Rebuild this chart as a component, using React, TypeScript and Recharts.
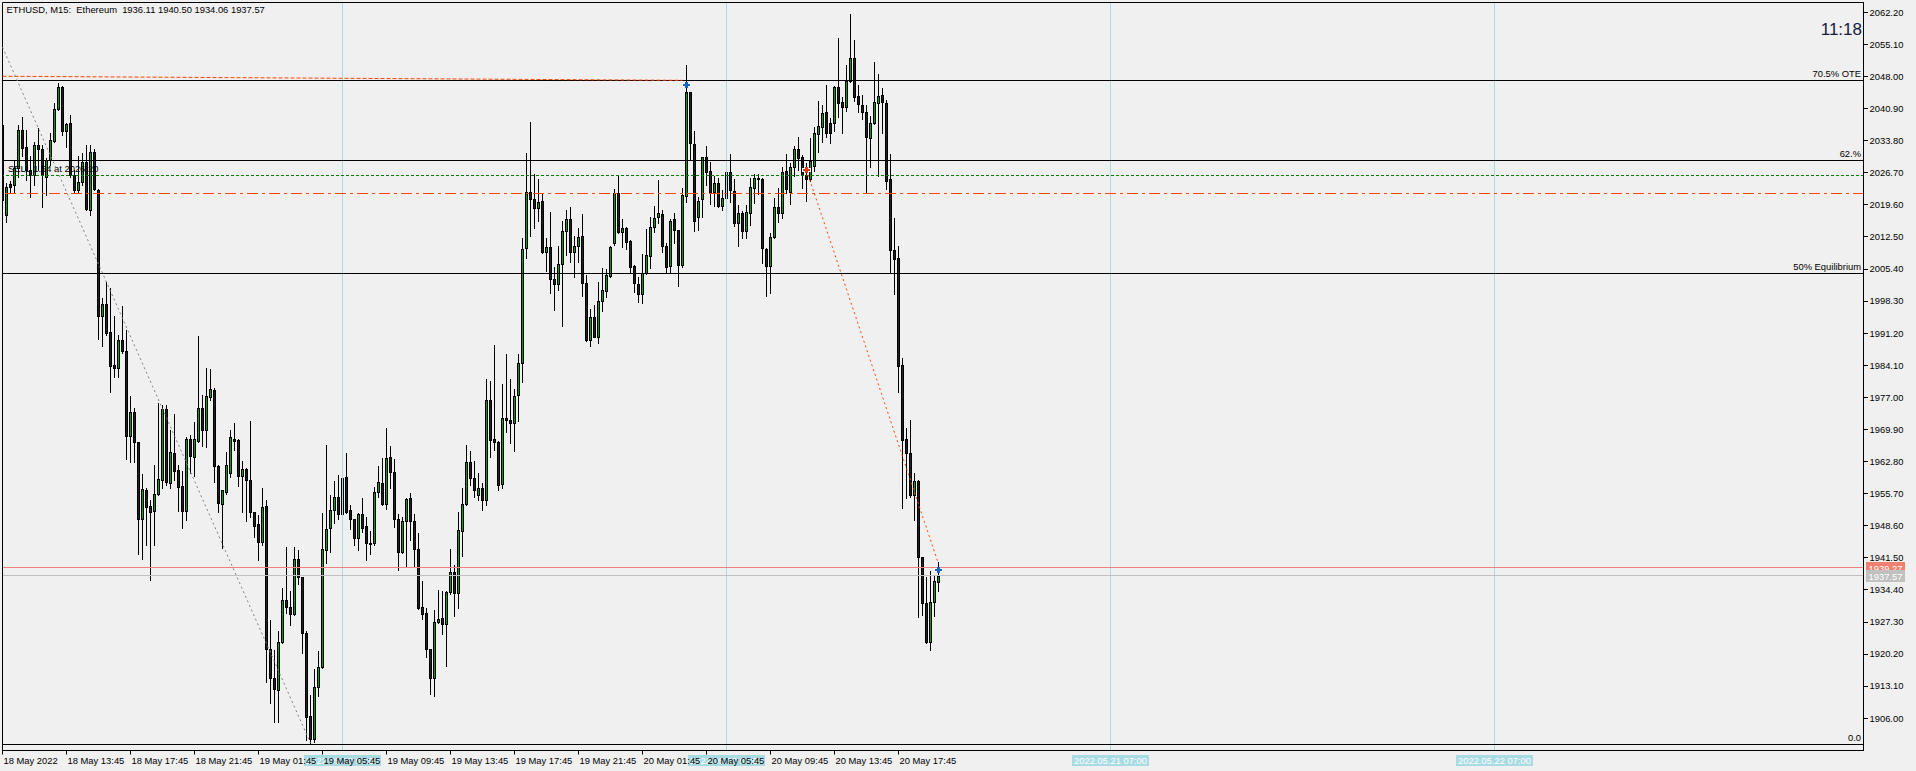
import React from 'react';
import { ComposedChart, Bar, XAxis, YAxis, ReferenceLine, ReferenceArea, ReferenceDot } from 'recharts';

const FONT = '"Liberation Sans", Arial, sans-serif';
const FS = 9.4;
const BULL = '#1f8f1f';
const BEAR = '#1e1e1e';
const SEP = '#a9dbe3';
const ORANGE = '#ff4500';

// ETHUSD M15, bar 0 = 18 May 09:45
const opens = [
  2037.3, 2017.4, 2024.2, 2024.0, 2027.7, 2036.2, 2032.3, 2027.3, 2026.2, 2032.8,
  2031.9, 2025.8, 2029.5, 2033.8, 2040.7, 2045.6, 2036.0, 2037.6, 2026.2, 2022.9,
  2024.6, 2029.0, 2018.5, 2031.2, 2022.9, 1995.1, 1997.6, 1991.4, 1984.2, 1983.6,
  1989.7, 1987.3, 1968.5, 1973.8, 1967.1, 1950.2, 1956.5, 1952.9, 1951.9, 1955.6,
  1958.7, 1974.4, 1958.0, 1964.6, 1960.9, 1957.4, 1951.9, 1967.9, 1963.9, 1967.4,
  1974.6, 1969.8, 1977.1, 1978.6, 1961.9, 1953.3, 1956.0, 1960.3, 1967.9, 1967.6,
  1959.7, 1961.1, 1958.7, 1951.6, 1949.0, 1945.1, 1952.9, 1921.3, 1914.9, 1912.3,
  1922.9, 1932.2, 1930.7, 1929.0, 1941.2, 1937.2, 1924.9, 1906.5, 1901.4, 1912.9,
  1917.4, 1943.2, 1948.2, 1952.0, 1954.9, 1951.1, 1959.4, 1952.0, 1950.0, 1945.8,
  1951.2, 1948.5, 1944.8, 1944.7, 1956.0, 1958.0, 1953.5, 1963.9, 1960.4, 1950.2,
  1942.9, 1949.7, 1954.7, 1949.7, 1943.4, 1930.6, 1929.2, 1921.3, 1914.9, 1927.2,
  1928.1, 1926.8, 1934.0, 1938.3, 1933.8, 1947.5, 1953.4, 1962.8, 1959.2, 1955.4,
  1957.0, 1954.3, 1976.4, 1967.7, 1967.2, 1957.8, 1972.4, 1972.1, 1971.4, 1977.5,
  1984.5, 2010.0, 2022.4, 2020.8, 2019.0, 2020.4, 2009.2, 2010.3, 2003.1, 2002.0,
  2006.5, 2013.8, 2016.4, 2009.2, 2010.5, 2012.7, 2002.2, 1989.7, 1994.7, 1990.4,
  1998.4, 2000.5, 2003.9, 2011.2, 2022.2, 2013.7, 2014.4, 2011.6, 2006.1, 2002.1,
  1999.8, 2004.5, 2008.3, 2014.6, 2016.8, 2017.5, 2010.6, 2006.1, 2016.4, 2014.0,
  2006.4, 2021.6, 2044.5, 2033.0, 2016.8, 2020.8, 2030.1, 2027.1, 2022.5, 2024.5,
  2019.3, 2021.1, 2026.8, 2022.7, 2015.5, 2017.7, 2013.9, 2017.7, 2023.3, 2025.5,
  2025.3, 2009.8, 2006.1, 2012.4, 2019.1, 2017.8, 2027.1, 2022.4, 2027.9, 2032.0,
  2030.1, 2026.2, 2025.3, 2028.3, 2035.2, 2036.8, 2040.2, 2037.7, 2037.7, 2045.7,
  2042.3, 2041.2, 2046.9, 2052.1, 2043.6, 2041.6, 2040.2, 2034.5, 2037.8, 2042.1,
  2044.0, 2042.1, 2025.3, 2009.5, 2007.9, 1984.1, 1967.8, 1964.6, 1955.4, 1958.6,
  1941.6, 1931.4, 1922.8, 1931.7, 1936.11,
];

const highs = [
  2039.9, 2024.4, 2024.9, 2029.5, 2037.3, 2039.0, 2036.2, 2030.4, 2033.4, 2036.5,
  2032.8, 2029.9, 2035.4, 2042.2, 2046.5, 2045.8, 2037.6, 2039.5, 2027.3, 2030.3,
  2031.1, 2032.8, 2032.8, 2032.0, 2023.0, 1998.9, 2002.5, 2001.1, 1994.9, 1990.8,
  1997.2, 1991.9, 1977.2, 1974.6, 1967.2, 1960.1, 1957.0, 1954.3, 1962.0, 1975.8,
  1975.3, 1975.3, 1969.8, 1973.3, 1962.0, 1960.7, 1968.3, 1968.7, 1971.6, 1990.6,
  1977.5, 1983.4, 1983.2, 1979.0, 1962.0, 1956.6, 1964.9, 1969.8, 1971.3, 1967.7,
  1962.9, 1961.3, 1971.8, 1951.7, 1950.9, 1956.9, 1954.3, 1927.7, 1921.1, 1925.2,
  1934.8, 1944.0, 1934.2, 1943.8, 1943.2, 1937.3, 1925.2, 1911.2, 1916.8, 1920.9,
  1951.5, 1966.5, 1955.4, 1958.5, 1959.8, 1965.1, 1964.6, 1953.2, 1950.2, 1951.5,
  1954.7, 1950.5, 1947.4, 1957.2, 1961.8, 1963.5, 1970.2, 1966.2, 1963.3, 1951.3,
  1950.6, 1954.8, 1955.8, 1951.2, 1947.1, 1936.4, 1930.3, 1921.4, 1930.0, 1934.4,
  1934.2, 1934.1, 1943.5, 1939.9, 1951.7, 1957.0, 1966.5, 1965.1, 1963.0, 1960.3,
  1958.0, 1981.0, 1980.7, 1988.6, 1967.3, 1980.0, 1986.5, 1981.0, 1978.8, 1986.5,
  2012.2, 2031.0, 2037.9, 2026.4, 2025.3, 2022.2, 2012.3, 2018.0, 2005.8, 2010.5,
  2016.1, 2018.5, 2019.1, 2012.6, 2014.4, 2017.6, 2004.1, 1996.5, 1997.4, 2002.6,
  2005.6, 2005.3, 2010.5, 2023.1, 2026.0, 2016.4, 2014.6, 2011.8, 2006.3, 2003.6,
  2008.7, 2014.2, 2016.8, 2019.3, 2025.1, 2018.5, 2011.1, 2016.4, 2017.7, 2014.1,
  2023.4, 2050.5, 2044.6, 2035.9, 2021.4, 2030.2, 2032.6, 2029.1, 2026.0, 2025.5,
  2022.9, 2032.5, 2030.9, 2025.3, 2019.6, 2018.2, 2019.6, 2025.5, 2026.4, 2026.4,
  2025.5, 2010.0, 2013.4, 2021.1, 2023.3, 2027.9, 2030.9, 2028.8, 2032.6, 2034.7,
  2030.6, 2028.8, 2034.3, 2036.8, 2042.5, 2041.6, 2046.2, 2038.9, 2045.9, 2056.5,
  2043.4, 2050.5, 2061.8, 2056.1, 2046.2, 2043.9, 2041.6, 2039.3, 2051.3, 2048.5,
  2045.5, 2042.7, 2030.9, 2016.7, 2010.4, 1985.7, 1970.3, 1971.9, 1960.2, 1958.7,
  1941.7, 1937.2, 1938.6, 1937.5, 1940.5,
];

const lows = [
  2017.4, 2015.7, 2022.4, 2022.2, 2025.8, 2030.3, 2025.1, 2021.4, 2024.0, 2027.3,
  2019.2, 2021.8, 2028.4, 2033.6, 2040.6, 2035.1, 2032.3, 2025.8, 2022.2, 2022.2,
  2024.0, 2018.4, 2017.4, 2022.9, 1989.9, 1988.4, 1990.7, 1978.3, 1981.6, 1981.6,
  1986.8, 1963.3, 1962.6, 1962.8, 1942.4, 1941.2, 1944.3, 1936.6, 1944.3, 1955.4,
  1957.0, 1957.6, 1956.9, 1958.7, 1951.9, 1948.2, 1949.9, 1960.2, 1959.6, 1967.2,
  1966.2, 1966.1, 1976.4, 1958.3, 1951.7, 1943.6, 1955.6, 1959.3, 1965.4, 1957.5,
  1951.7, 1949.7, 1950.6, 1946.2, 1941.0, 1944.3, 1914.1, 1909.3, 1905.2, 1905.2,
  1922.7, 1929.4, 1926.6, 1928.9, 1935.7, 1920.5, 1901.2, 1900.5, 1900.7, 1911.0,
  1917.2, 1940.4, 1942.9, 1949.1, 1950.0, 1950.0, 1951.4, 1947.8, 1944.3, 1943.2,
  1947.3, 1941.0, 1942.4, 1944.3, 1955.0, 1953.2, 1952.3, 1957.0, 1948.4, 1938.7,
  1942.5, 1939.8, 1945.5, 1939.5, 1930.2, 1928.0, 1919.6, 1911.3, 1911.0, 1927.0,
  1924.6, 1917.6, 1933.4, 1928.7, 1930.3, 1942.0, 1953.2, 1957.6, 1955.0, 1954.3,
  1952.1, 1953.2, 1963.9, 1965.4, 1956.5, 1956.9, 1969.4, 1966.8, 1965.2, 1971.8,
  1980.3, 2007.8, 2012.6, 2014.5, 2016.1, 2008.9, 2005.0, 2000.0, 1996.3, 2000.8,
  1992.8, 2008.4, 2007.0, 2003.7, 2007.0, 1999.4, 1989.5, 1988.4, 1990.3, 1989.1,
  1996.2, 1999.1, 2003.7, 2010.7, 2013.4, 2010.2, 2009.8, 2004.6, 2000.4, 1998.0,
  1997.8, 2004.2, 2005.6, 2013.7, 2015.5, 2009.1, 2004.6, 2004.8, 2011.1, 2001.7,
  2005.8, 2020.2, 2029.5, 2013.8, 2014.0, 2016.8, 2024.0, 2019.8, 2019.3, 2019.2,
  2018.5, 2020.7, 2020.3, 2014.9, 2010.5, 2012.3, 2012.3, 2015.1, 2020.1, 2022.0,
  2006.8, 1999.4, 2000.2, 2012.2, 2015.9, 2016.7, 2022.2, 2019.8, 2026.0, 2027.4,
  2023.4, 2020.5, 2024.9, 2027.1, 2031.3, 2033.4, 2034.7, 2033.2, 2035.9, 2039.0,
  2035.6, 2040.4, 2046.7, 2042.5, 2040.2, 2038.7, 2022.5, 2027.9, 2037.5, 2026.0,
  2035.6, 2023.1, 2004.5, 1999.9, 1978.3, 1952.6, 1954.7, 1954.9, 1949.9, 1928.3,
  1928.8, 1922.6, 1921.2, 1928.6, 1934.06,
];

const closes = [
  2020.7, 2023.6, 2023.6, 2027.7, 2036.2, 2032.1, 2027.3, 2026.2, 2032.8, 2031.9,
  2026.2, 2029.5, 2033.9, 2040.7, 2045.6, 2036.0, 2037.5, 2026.2, 2022.9, 2024.6,
  2029.0, 2018.6, 2031.2, 2023.0, 1995.1, 1997.6, 1991.3, 1984.0, 1983.6, 1989.7,
  1987.3, 1968.5, 1973.8, 1967.1, 1950.0, 1956.7, 1952.8, 1951.6, 1955.6, 1958.9,
  1974.4, 1958.3, 1964.9, 1960.8, 1957.2, 1951.9, 1967.8, 1964.1, 1967.8, 1974.6,
  1969.8, 1977.3, 1978.8, 1961.9, 1953.6, 1956.5, 1962.0, 1968.2, 1967.4, 1959.7,
  1961.1, 1958.7, 1951.7, 1948.6, 1944.9, 1952.7, 1921.3, 1914.9, 1912.4, 1922.9,
  1932.2, 1930.6, 1929.0, 1941.2, 1937.2, 1924.8, 1906.2, 1901.4, 1912.9, 1917.4,
  1943.4, 1947.8, 1952.0, 1954.9, 1951.1, 1959.2, 1951.7, 1950.0, 1945.8, 1951.2,
  1948.2, 1944.7, 1944.6, 1956.0, 1958.2, 1953.5, 1963.5, 1960.6, 1950.2, 1942.9,
  1949.7, 1954.5, 1949.7, 1943.4, 1930.3, 1929.0, 1921.3, 1914.9, 1927.2, 1927.9,
  1926.8, 1934.0, 1938.3, 1933.8, 1947.7, 1953.4, 1962.6, 1959.2, 1956.5, 1957.0,
  1954.3, 1976.4, 1967.6, 1967.2, 1957.6, 1972.4, 1972.0, 1971.4, 1977.3, 1984.5,
  2009.8, 2022.4, 2020.8, 2019.0, 2020.2, 2009.1, 2010.3, 2003.1, 2002.0, 2006.5,
  2013.8, 2016.4, 2009.2, 2010.5, 2012.5, 2002.4, 1989.7, 1994.7, 1990.4, 1998.4,
  2000.7, 2004.1, 2010.3, 2022.2, 2013.7, 2014.4, 2011.4, 2005.9, 2002.4, 1999.8,
  2004.5, 2008.4, 2014.6, 2016.6, 2017.7, 2010.6, 2005.9, 2016.0, 2014.0, 2006.4,
  2021.8, 2044.5, 2033.2, 2016.1, 2020.5, 2030.1, 2026.9, 2022.3, 2024.5, 2019.3,
  2021.1, 2026.9, 2022.9, 2015.5, 2017.7, 2013.9, 2018.0, 2023.6, 2025.5, 2025.3,
  2010.0, 2006.1, 2012.4, 2019.1, 2017.9, 2026.9, 2023.1, 2027.9, 2032.0, 2030.0,
  2026.2, 2025.3, 2029.4, 2035.4, 2037.0, 2040.0, 2035.6, 2035.6, 2045.7, 2042.2,
  2041.2, 2047.1, 2052.1, 2043.4, 2042.0, 2040.2, 2034.7, 2037.8, 2042.4, 2043.7,
  2042.4, 2024.8, 2009.5, 2007.7, 1984.0, 1967.5, 1964.7, 1955.4, 1958.6, 1941.6,
  1931.4, 1922.8, 1931.7, 1936.3, 1937.57,
];

const xTickIndex = [0, 16, 32, 48, 64, 80, 96, 112, 128, 144, 160, 176, 192, 208, 224];
const xTickLabels = [
  '18 May 2022', '18 May 13:45', '18 May 17:45', '18 May 21:45', '19 May 01:45',
  '19 May 05:45', '19 May 09:45', '19 May 13:45', '19 May 17:45', '19 May 21:45',
  '20 May 01:45', '20 May 05:45', '20 May 09:45', '20 May 13:45', '20 May 17:45',
];
const separatorIndex = [85, 181, 277, 373];
const separatorLabels = ['2022.05.19 07:00', '2022.05.20 07:00', '2022.05.21 07:00', '2022.05.22 07:00'];

const yTicks = [
  2062.2, 2055.1, 2048.0, 2040.9, 2033.8, 2026.7, 2019.6, 2012.5, 2005.4, 1998.3, 1991.2, 1984.1,
  1977.0, 1969.9, 1962.8, 1955.7, 1948.6, 1941.5, 1934.4, 1927.3, 1920.2, 1913.1, 1906.0,
];

const fibLabels = ['70.5% OTE', '62.%', '50% Equilibrium', '0.0'];
const fibPrices = [2047.14, 2029.42, 2004.41, 1900.2];

const positionPrice = 2026.2;
const positionText = 'SELL 1.54 at 2026.20';
const userLevel = 2022.22;
const bidPrice = 1939.27;
const lastPrice = 1937.57;

// trendlines: [startIndex, startPrice, endIndex, endPrice]
const highTrend = [0, 2048.05, 170, 2047.15];
const swingLine = [0, 2054.48, 77, 1900.5];
const dropLine = [201, 2027.3, 234, 1940.2];

const dealMarks = [
  { k: 171, price: 2046.12, color: '#1565c8' },
  { k: 201, price: 2027.31, color: '#e23a1a' },
  { k: 234, price: 1938.87, color: '#1565c8' },
];

const Y_MIN = 1898.87;
const Y_MAX = 2064.37;
const X_MAX = 465.25;

const data = opens.map((o, k) => ({ k, range: [lows[k], highs[k]], o, h: highs[k], l: lows[k], c: closes[k] }));

function Candle(props: any) {
  const { x, y, width, height, payload } = props;
  if (x == null || !payload) return null;
  const top = Math.min(y, y + height);
  const bot = Math.max(y, y + height);
  const span = payload.h - payload.l;
  const py = (v: number) => (span > 0 ? top + ((payload.h - v) / span) * (bot - top) : top);
  const c = Math.floor(x + width / 2);
  const yH = Math.round(py(payload.h));
  const yL = Math.round(py(payload.l));
  const bt = Math.round(py(Math.max(payload.o, payload.c)));
  const bb = Math.round(py(Math.min(payload.o, payload.c)));
  const bull = payload.c > payload.o;
  return (
    <g shapeRendering="crispEdges">
      <rect x={c} y={yH} width={1} height={Math.max(1, yL - yH + 1)} fill="#000" />
      <rect x={c - 1} y={bt} width={3} height={Math.max(1, bb - bt + 1)} fill="#000" />
      {bb - bt >= 2 && <rect x={c} y={bt + 1} width={1} height={bb - bt - 1} fill={bull ? BULL : BEAR} />}
    </g>
  );
}

function XTick(props: any) {
  const { x, y, payload } = props;
  const v = payload.value;
  const px = Math.floor(x);
  const axisY = y - 6;
  const s = separatorIndex.indexOf(v);
  if (s >= 0) {
    return (
      <g>
        <rect x={px - 38} y={axisY + 4.5} width={77} height={11} fill={SEP} />
        <text x={px + 0.5} y={axisY + 13.5} textAnchor="middle" fill="#fff" fontSize={FS} fontFamily={FONT}>
          {separatorLabels[s]}
        </text>
      </g>
    );
  }
  const i = xTickIndex.indexOf(v);
  return (
    <g>
      <line x1={px + 0.5} x2={px + 0.5} y1={axisY} y2={axisY + 4} stroke="#000" />
      <text x={px + 1.5} y={axisY + 13} textAnchor="start" fill="#000" fontSize={FS} fontFamily={FONT}>
        {xTickLabels[i]}
      </text>
    </g>
  );
}

function YTick(props: any) {
  const { x, y, payload } = props;
  return (
    <text x={x} y={y + 3.3} textAnchor="start" fill="#000" fontSize={FS} fontFamily={FONT}>
      {Number(payload.value).toFixed(2)}
    </text>
  );
}

const fibLabel = (text: string) => (p: any) => (
  <text x={p.viewBox.x + p.viewBox.width - 2.5} y={Math.round(p.viewBox.y) - 3} textAnchor="end" fill="#000" fontSize={FS} fontFamily={FONT}>
    {text}
  </text>
);

const priceTag = (text: string, color: string) => (p: any) => {
  const cy = Math.round(p.viewBox.y);
  return (
    <g>
      <rect x={p.viewBox.x + p.viewBox.width + 2.5} y={cy - 6} width={39} height={12} fill={color} />
      <text x={p.viewBox.x + p.viewBox.width + 5} y={cy + 3.5} fill="#fff" fontSize={FS} fontFamily={FONT}>
        {text}
      </text>
    </g>
  );
};

const positionLabel = (p: any) => (
  <text x={p.viewBox.x + 5.5} y={Math.round(p.viewBox.y) - 3} fill="#000" fontSize={FS} fontFamily={FONT}>
    {positionText}
  </text>
);

const DealMark = (color: string) => (p: any) => {
  const cx = Math.floor(p.cx);
  const cy = Math.round(p.cy);
  return (
    <g shapeRendering="crispEdges">
      <rect x={cx - 4} y={cy - 2} width={9} height={4} fill="#fff" />
      <rect x={cx - 3} y={cy - 1} width={7} height={2} fill={color} />
      <rect x={cx - 1} y={cy - 3} width={3} height={6} fill={color} />
    </g>
  );
};

export default function App() {
  return (
    <div style={{ position: 'absolute', left: 0, top: 0, width: 1916, height: 771, background: '#f0f0f0', overflow: 'hidden' }}>
      <ComposedChart width={1916} height={771} data={data} margin={{ top: 2.5, right: 0, left: 2.5, bottom: 0 }}>
        <XAxis
          type="number"
          dataKey="k"
          domain={[0, X_MAX]}
          allowDataOverflow
          ticks={[...separatorIndex, ...xTickIndex]}
          interval={0}
          height={20.5}
          axisLine={{ stroke: '#000' }}
          tickLine={false}
          tickSize={4}
          tickMargin={2}
          tick={<XTick />}
        />
        <YAxis
          orientation="right"
          type="number"
          domain={[Y_MIN, Y_MAX]}
          allowDataOverflow
          ticks={yTicks}
          interval={0}
          width={52.5}
          axisLine={{ stroke: '#000' }}
          tickLine={{ stroke: '#000', shapeRendering: 'crispEdges' }}
          tickSize={4}
          tickMargin={2}
          tick={<YTick />}
        />
        <ReferenceArea x1={0} x2={X_MAX} y1={Y_MIN} y2={Y_MAX} fill="none" stroke="#000" fillOpacity={0} />
        {separatorIndex.map((k) => (
          <ReferenceLine key={'sep' + k} x={k} stroke={SEP} shapeRendering="crispEdges" />
        ))}
        <ReferenceLine y={bidPrice} stroke="#f08080" shapeRendering="crispEdges" label={priceTag(bidPrice.toFixed(2), '#f08070')} />
        <ReferenceLine y={lastPrice} stroke="#c0c0c0" shapeRendering="crispEdges" label={priceTag(lastPrice.toFixed(2), '#c0c0c0')} />
        {fibPrices.map((p, i) => (
          <ReferenceLine key={'fib' + i} y={p} stroke="#000" shapeRendering="crispEdges" label={fibLabel(fibLabels[i])} />
        ))}
        <ReferenceLine y={positionPrice} stroke="#008000" strokeDasharray="3 2" shapeRendering="crispEdges" label={positionLabel} />
        <ReferenceLine y={userLevel} stroke={ORANGE} strokeWidth={1} strokeDasharray="11 4 3 4" shapeRendering="crispEdges" />
        <ReferenceLine
          segment={[{ x: highTrend[0], y: highTrend[1] }, { x: highTrend[2], y: highTrend[3] }]}
          stroke={ORANGE}
          strokeDasharray="4 2"
        />
        <ReferenceLine
          segment={[{ x: swingLine[0], y: swingLine[1] }, { x: swingLine[2], y: swingLine[3] }]}
          stroke="#808080"
          strokeDasharray="2 3"
        />
        <ReferenceLine
          segment={[{ x: dropLine[0], y: dropLine[1] }, { x: dropLine[2], y: dropLine[3] }]}
          stroke={ORANGE}
          strokeDasharray="2 3"
        />
        <Bar dataKey="range" barSize={4} shape={<Candle />} isAnimationActive={false} activeBar={false} />
        {dealMarks.map((m) => (
          <ReferenceDot key={'deal' + m.k} x={m.k} y={m.price} r={3} shape={DealMark(m.color)} />
        ))}
      </ComposedChart>
      <svg width={1916} height={771} style={{ position: 'absolute', left: 0, top: 0, pointerEvents: 'none' }}>
        <text x={6.5} y={12.5} fill="#000" fontSize={FS} fontFamily={FONT} style={{ whiteSpace: 'pre' }}>
          {'ETHUSD, M15:  Ethereum  1936.11 1940.50 1934.06 1937.57'}
        </text>
        <text x={1862} y={35} textAnchor="end" fill="#13213d" fontSize={17} fontFamily={FONT}>
          11:18
        </text>
      </svg>
    </div>
  );
}
